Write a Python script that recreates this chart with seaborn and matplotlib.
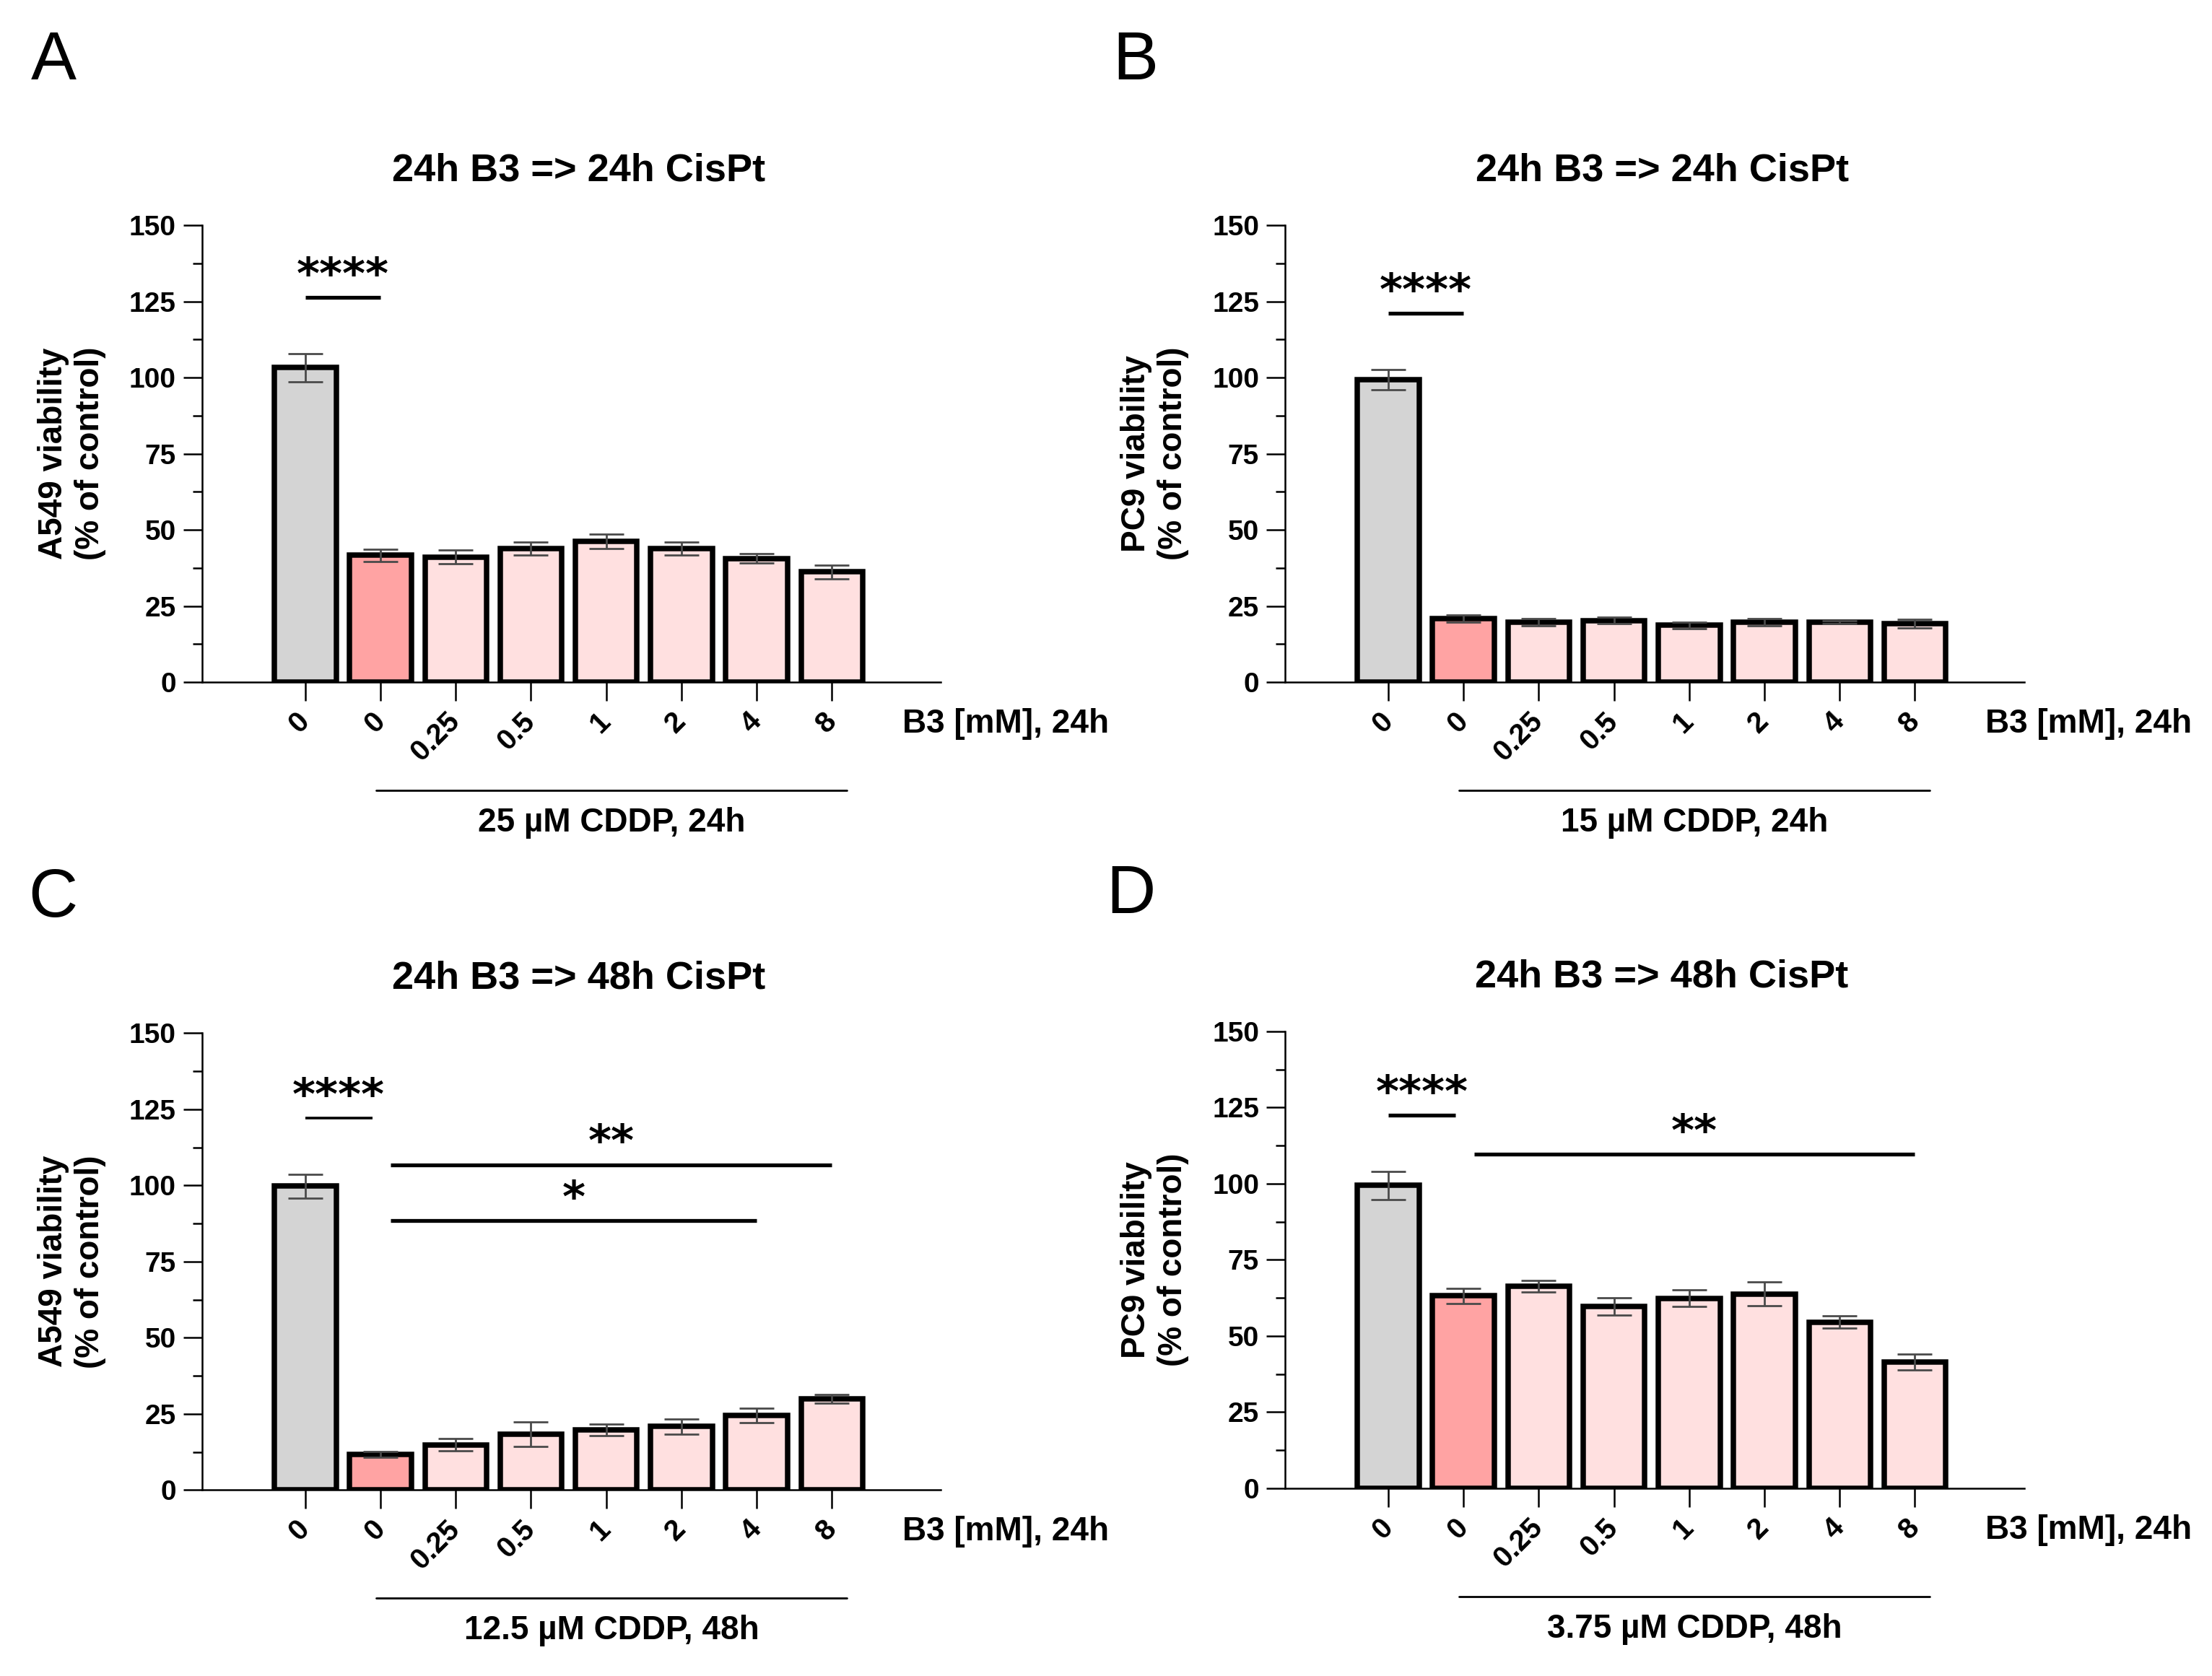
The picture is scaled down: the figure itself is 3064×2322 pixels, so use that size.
import pandas as pd
import matplotlib.pyplot as plt
from matplotlib.ticker import MultipleLocator
import seaborn as sns

# B3 dose labels (first bar = untreated control)
doses = ['0', '0', '0.25', '0.5', '1', '2', '4', '8']
bar_colors = ['#d4d4d4', '#ffa3a3', '#ffe0e0', '#ffe0e0', '#ffe0e0', '#ffe0e0', '#ffe0e0', '#ffe0e0']

# viability (% of control), mean and error
a_vals = [103.3, 41.7, 41.1, 43.8, 46.3, 43.8, 40.6, 36.2]
a_err = [4.6, 2.0, 2.3, 2.1, 2.4, 2.1, 1.5, 2.2]
b_vals = [99.3, 20.8, 19.7, 20.2, 18.7, 19.7, 19.7, 19.2]
b_err = [3.3, 1.2, 1.2, 1.1, 1.1, 1.1, 0.5, 1.4]
c_vals = [99.8, 11.7, 14.8, 18.3, 19.8, 20.8, 24.5, 30.0]
c_err = [3.9, 1.0, 2.0, 4.0, 1.9, 2.6, 2.4, 1.4]
d_vals = [99.4, 63.2, 66.3, 59.7, 62.4, 63.8, 54.6, 41.4]
d_err = [4.7, 2.5, 1.9, 2.9, 2.8, 3.9, 2.1, 2.6]

titles = ['24h B3 => 24h CisPt', '24h B3 => 24h CisPt', '24h B3 => 48h CisPt', '24h B3 => 48h CisPt']
ylabels = ['A549 viability\n(% of control)', 'PC9 viability\n(% of control)',
           'A549 viability\n(% of control)', 'PC9 viability\n(% of control)']
cddp_labels = ['25 µM CDDP, 24h', '15 µM CDDP, 24h', '12.5 µM CDDP, 48h', '3.75 µM CDDP, 48h']
panel_letters = ['A', 'B', 'C', 'D']

# significance brackets: (x start, x end, y of line, stars, line width)
sig_a = [(0, 1, 126.3, '****', 1.9)]
sig_b = [(0, 1, 121.0, '****', 1.9)]
sig_c = [(0, 0.89, 122.0, '****', 1.3), (1.13, 7.0, 106.8, '**', 1.9), (1.13, 6.0, 88.5, '*', 1.9)]
sig_d = [(0, 0.89, 122.5, '****', 1.9), (1.14, 7.0, 109.6, '**', 1.9)]

sns.set_style('ticks')
plt.rcParams['font.family'] = ['Liberation Sans', 'DejaVu Sans']
plt.rcParams['text.color'] = 'black'
plt.rcParams['axes.labelcolor'] = 'black'
plt.rcParams['axes.edgecolor'] = 'black'
plt.rcParams['xtick.color'] = 'black'
plt.rcParams['ytick.color'] = 'black'

fig = plt.figure(figsize=(15.32, 11.61), dpi=200)
rects = [[0.0914, 0.593, 0.334, 0.2726], [0.581, 0.593, 0.334, 0.2726],
         [0.0914, 0.111, 0.334, 0.2726], [0.581, 0.112, 0.334, 0.2726]]
letter_pos = [(0.014, 0.9526), (0.503, 0.9526), (0.0127, 0.453), (0.500, 0.455)]

all_vals = [a_vals, b_vals, c_vals, d_vals]
all_err = [a_err, b_err, c_err, d_err]
all_sig = [sig_a, sig_b, sig_c, sig_d]

for i in range(4):
    ax = fig.add_axes(rects[i])
    df = pd.DataFrame({'grp': ['g%d' % k for k in range(8)], 'val': all_vals[i]})
    sns.barplot(data=df, x='grp', y='val', hue='grp', palette=bar_colors, legend=False,
                width=0.82, edgecolor='black', linewidth=2.7, saturation=1, ax=ax)
    ax.errorbar(range(8), all_vals[i], yerr=all_err[i], fmt='none', ecolor='#4a4a4a',
                elinewidth=1.0, capsize=8.7, capthick=1.0, zorder=5)

    ax.set_xlim(-1.37, 8.45)
    ax.set_ylim(0, 150)
    ax.yaxis.set_major_locator(MultipleLocator(25))
    ax.yaxis.set_minor_locator(MultipleLocator(12.5))
    sns.despine(ax=ax)
    for s in ['left', 'bottom']:
        ax.spines[s].set_linewidth(0.9)
    ax.tick_params(axis='y', which='major', length=9.4, width=0.9, pad=3.6, labelsize=14)
    ax.tick_params(axis='y', which='minor', length=4.7, width=0.9)
    ax.tick_params(axis='x', length=9.4, width=0.9, pad=8)
    for lab in ax.get_yticklabels():
        lab.set_fontweight('bold')
    ax.set_xticks(range(8))
    ax.set_xticklabels(doses, rotation=45, ha='right', va='center', rotation_mode='anchor',
                       fontweight='bold', fontsize=14.5)
    ax.set_xlabel('')
    ax.set_ylabel(ylabels[i], fontsize=16.5, fontweight='bold')
    ax.yaxis.set_label_coords(-0.13, 0.5)

    ax.text(0.51, 1.12, titles[i], transform=ax.transAxes, ha='center', va='center',
            fontsize=19.5, fontweight='bold')
    ax.text(0.948, -0.092, 'B3 [mM], 24h', transform=ax.transAxes, ha='left', va='center',
            fontsize=16.5, fontweight='bold')

    # CDDP bracket under the treated bars
    tr = ax.get_xaxis_transform()
    ax.plot([0.94, 7.2], [-0.237, -0.237], transform=tr, clip_on=False, color='black', lw=1.0)
    ax.text(4.07, -0.308, cddp_labels[i], transform=tr, ha='center', va='center',
            fontsize=16.5, fontweight='bold')

    for x1, x2, y, stars, lw in all_sig[i]:
        ax.plot([x1, x2], [y, y], color='black', lw=lw, clip_on=False, solid_capstyle='butt')
        ax.text((x1 + x2) / 2, y + 6.8, stars, ha='center', va='center', fontsize=22,
                fontweight='bold', family='DejaVu Sans')

    fig.text(letter_pos[i][0], letter_pos[i][1], panel_letters[i], fontsize=34,
             ha='left', va='baseline')

fig.savefig('out.png', dpi=200, facecolor='white')
